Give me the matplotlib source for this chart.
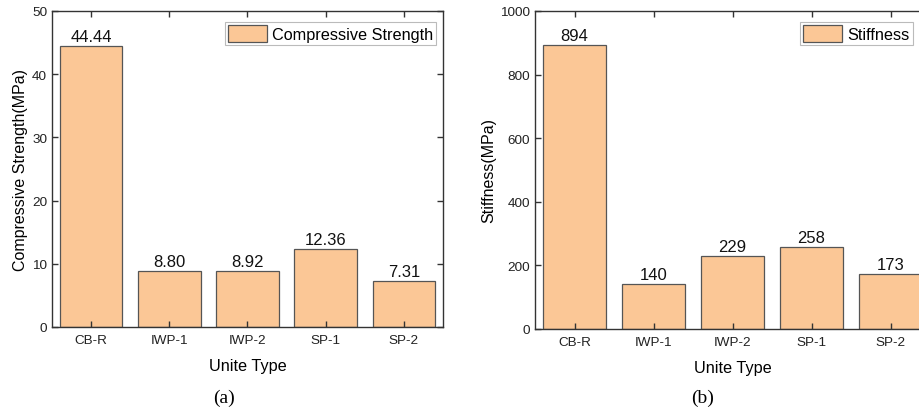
import matplotlib
matplotlib.use('Agg')
from matplotlib import pyplot as plt
import numpy as np

plt.rcParams['font.family'] = ['Liberation Sans', 'DejaVu Sans']

units = ['CB-R', 'IWP-1', 'IWP-2', 'SP-1', 'SP-2']
strength = [44.44, 8.80, 8.92, 12.36, 7.31]
strength_labels = ['44.44', '8.80', '8.92', '12.36', '7.31']
stiffness = [894, 140, 229, 258, 173]
stiffness_labels = ['894', '140', '229', '258', '173']

bar_color = '#fbc796'
edge_color = '#555555'
spine_color = '#333333'


def style_axes(ax):
    for s in ax.spines.values():
        s.set_color(spine_color)
        s.set_linewidth(1.0)
    ax.tick_params(direction='in', length=4.5, width=1, color=spine_color,
                   top=True, right=True, labelsize=9.7, labelcolor='#222222')
    ax.tick_params(axis='x', pad=5)
    ax.set_xlim(-0.5, len(units) - 0.5)


def panel(ax, values, labels, ylabel, legend_name, ylim, yticks, anchor):
    x = np.arange(len(units))
    bars = ax.bar(x, values, width=0.8, color=bar_color, edgecolor=edge_color,
                  linewidth=0.9, label=legend_name, zorder=1)
    style_axes(ax)
    ax.set_ylim(*ylim)
    ax.set_yticks(yticks)
    ax.set_xticks(x)
    ax.set_xticklabels(units)
    ax.set_xlabel('Unite Type', fontsize=11.7, labelpad=9)
    ax.set_ylabel(ylabel, fontsize=11.5, labelpad=3)
    for b, t in zip(bars, labels):
        ax.annotate(t, (b.get_x() + b.get_width() / 2, b.get_height()),
                    xytext=(0, 1.5), textcoords='offset points',
                    ha='center', va='bottom', fontsize=12, color='#111111')
    leg = ax.legend(loc='upper right', bbox_to_anchor=anchor, borderaxespad=0,
                    fontsize=11.7, fancybox=False, framealpha=1,
                    handlelength=2.4, handleheight=1.2, borderpad=0.2,
                    handletextpad=0.3)
    leg.get_frame().set_edgecolor('#bbbbbb')
    leg.get_frame().set_linewidth(0.8)


fig = plt.figure(figsize=(9.2, 4.14), dpi=100)
ax1 = fig.add_axes([52 / 920, 86 / 414, 391 / 920, 316 / 414])
ax2 = fig.add_axes([535 / 920, 84 / 414, 395 / 920, 318 / 414])

panel(ax1, strength, strength_labels, 'Compressive Strength(MPa)',
      'Compressive Strength', (0, 50), [0, 10, 20, 30, 40, 50], (0.983, 0.966))
panel(ax2, stiffness, stiffness_labels, 'Stiffness(MPa)',
      'Stiffness', (0, 1000), [0, 200, 400, 600, 800, 1000], (0.956, 0.966))

fig.text(224 / 920, 1 - 398 / 414, '(a)', ha='center', va='center',
         fontsize=14, family='Liberation Serif')
fig.text(703 / 920, 1 - 398 / 414, '(b)', ha='center', va='center',
         fontsize=14, family='Liberation Serif')

fig.savefig('out.png', dpi=100)
